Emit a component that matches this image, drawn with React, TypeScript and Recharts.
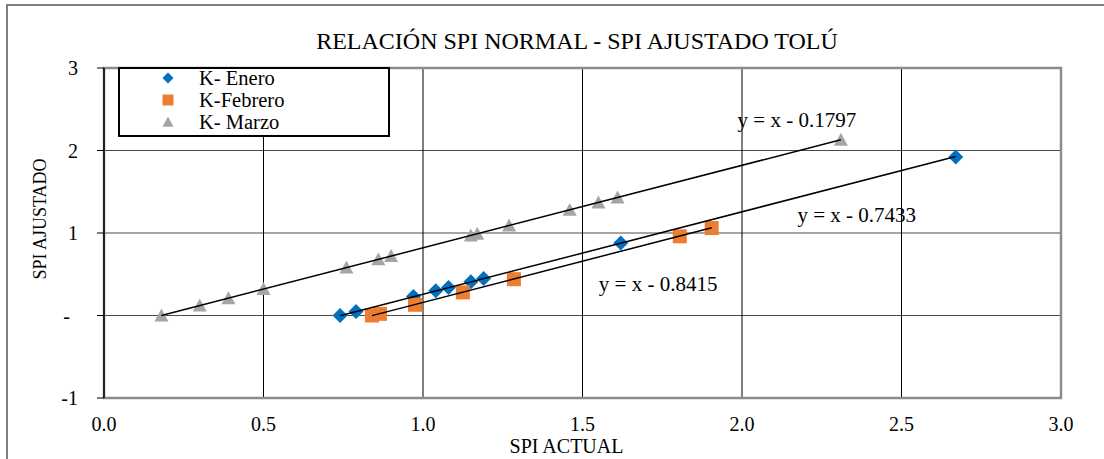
import React from 'react';
import {
  ScatterChart,
  Scatter,
  XAxis,
  YAxis,
  CartesianGrid,
  ReferenceArea,
  ReferenceLine,
  ReferenceDot,
  Legend,
  Label,
} from 'recharts';

// values
const eneroX = [0.74, 0.79, 0.97, 1.04, 1.08, 1.15, 1.19, 1.62, 2.67];
const eneroY = [0.0, 0.05, 0.23, 0.3, 0.34, 0.41, 0.45, 0.88, 1.92];
const febreroX = [0.84, 0.865, 0.975, 1.125, 1.285, 1.805, 1.905];
const febreroY = [0.0, 0.02, 0.13, 0.28, 0.44, 0.96, 1.06];
const marzoX = [0.18, 0.3, 0.39, 0.5, 0.76, 0.86, 0.9, 1.15, 1.17, 1.27, 1.46, 1.55, 1.61, 2.31];
const marzoY = [0.0, 0.12, 0.21, 0.32, 0.58, 0.68, 0.72, 0.97, 0.99, 1.09, 1.28, 1.37, 1.43, 2.13];

const seriesNames = ['K- Enero', 'K-Febrero', 'K- Marzo'];
const seriesColors = ['#0070C0', '#ED7D31', '#A5A5A5'];
const seriesShapes = ['diamond', 'square', 'triangle'];
// trendline equations y = x - b
const intercepts = [0.7433, 0.8415, 0.1797];
// where each equation label sits (data coordinates)
const trendLabelX = [2.36, 1.737, 2.172];
const trendLabelY = [1.137, 0.297, 2.285];

const xTicks = [0, 0.5, 1, 1.5, 2, 2.5, 3];
const yTicks = [-1, 0, 1, 2, 3];

const TITLE = 'RELACIÓN SPI NORMAL - SPI AJUSTADO TOLÚ';
const FONT = '"Liberation Serif", "Times New Roman", serif';

const toPoints = (xs: number[], ys: number[]) => xs.map((x, i) => ({ x, y: ys[i] }));
const seriesData = [toPoints(eneroX, eneroY), toPoints(febreroX, febreroY), toPoints(marzoX, marzoY)];

const trendData = seriesData.map((pts, i) => {
  const xs = pts.map(p => p.x);
  const lo = Math.min(...xs);
  const hi = Math.max(...xs);
  return [
    { x: lo, y: lo - intercepts[i] },
    { x: hi, y: hi - intercepts[i] },
  ];
});

const drawMarker = (kind: string, cx: number, cy: number, color: string, s: number) => {
  if (kind === 'diamond') {
    return <path d={`M${cx},${cy - s}L${cx + s},${cy}L${cx},${cy + s}L${cx - s},${cy}Z`} fill={color} />;
  }
  if (kind === 'square') {
    return <rect x={cx - s} y={cy - s} width={s * 2} height={s * 2} fill={color} />;
  }
  return <path d={`M${cx},${cy - s}L${cx + s},${cy + s * 0.85}L${cx - s},${cy + s * 0.85}Z`} fill={color} />;
};

const YTick = (props: any) => {
  const { x, y, payload } = props;
  const isZero = payload.value === 0;
  return (
    <text
      x={isZero ? x - 8 : x}
      y={y}
      dy="0.355em"
      textAnchor="end"
      fill="#000"
      fontSize={20}
      fontFamily={FONT}
    >
      {isZero ? '-' : payload.value}
    </text>
  );
};

const LegendBox = () => (
  <div
    style={{
      width: 272,
      height: 70,
      border: '2px solid #000',
      boxSizing: 'border-box',
      background: '#fff',
      position: 'relative',
      fontFamily: FONT,
      fontSize: 20.5,
      color: '#000',
    }}
  >
    {seriesNames.map((name, i) => (
      <div key={name} style={{ position: 'absolute', left: 0, top: 9 + i * 22 - 11, height: 22, width: '100%' }}>
        <svg width={16} height={16} style={{ position: 'absolute', left: 40, top: 3 }}>
          {drawMarker(seriesShapes[i], 8, 8, seriesColors[i], 5.5)}
        </svg>
        <span style={{ position: 'absolute', left: 79, top: 0, lineHeight: '22px', whiteSpace: 'nowrap' }}>{name}</span>
      </div>
    ))}
  </div>
);

export default function App() {
  return (
    <div style={{ position: 'absolute', left: 0, top: 0, width: 1104, height: 459, overflow: 'hidden', background: '#fff' }}>
      <div
        style={{
          position: 'absolute',
          left: 6,
          top: 4,
          width: 1110,
          height: 470,
          border: '2px solid #7f7f7f',
          boxSizing: 'border-box',
        }}
      />
      <div
        style={{
          position: 'absolute',
          left: 227,
          top: 29,
          width: 700,
          textAlign: 'center',
          fontFamily: FONT,
          fontSize: 24,
          lineHeight: '24px',
          color: '#000',
          whiteSpace: 'nowrap',
        }}
      >
        {TITLE}
      </div>
      <div style={{ position: 'absolute', left: 7, top: 5 }}>
        <ScatterChart
          width={1097}
          height={454}
          margin={{ top: 63, right: 43, bottom: 0, left: 37 }}
          style={{ fontFamily: FONT }}
        >
          <CartesianGrid vertical={false} stroke="#4a4a4a" strokeWidth={1} />
          <CartesianGrid horizontal={false} stroke="#000" strokeWidth={1} />
          <XAxis
            type="number"
            dataKey="x"
            domain={[0, 3]}
            ticks={xTicks}
            interval={0}
            tickFormatter={(v: number) => v.toFixed(1)}
            axisLine={false}
            tickLine={false}
            tickMargin={13}
            height={61}
            tick={{ fill: '#000', fontSize: 20, fontFamily: FONT }}
          >
            <Label
              content={(p: any) => {
                const vb = p.viewBox;
                return (
                  <text x={vb.x + vb.width / 2 - 16} y={vb.y + 54.7} textAnchor="middle" fill="#000" fontSize={20} fontFamily={FONT}>
                    SPI ACTUAL
                  </text>
                );
              }}
            />
          </XAxis>
          <YAxis
            type="number"
            dataKey="y"
            domain={[-1, 3]}
            ticks={yTicks}
            interval={0}
            width={60}
            tickSize={7}
            tickMargin={19}
            axisLine={{ stroke: '#000' }}
            tickLine={{ stroke: '#000' }}
            tick={<YTick />}
          >
            <Label
              content={(p: any) => {
                const vb = p.viewBox;
                const cx = vb.x - 4;
                const cy = vb.y + vb.height / 2 - 14;
                return (
                  <text
                    x={cx}
                    y={cy}
                    transform={`rotate(-90, ${cx}, ${cy})`}
                    textAnchor="middle"
                    dominantBaseline="central"
                    fill="#000"
                    fontSize={18}
                    fontFamily={FONT}
                  >
                    SPI AJUSTADO
                  </text>
                );
              }}
            />
          </YAxis>
          <ReferenceArea x1={0} x2={3} y1={-1} y2={3} fill="none" stroke="#8c8c8c" strokeWidth={2.5} />
          <ReferenceLine x={0} stroke="#000" strokeWidth={1} />
          <Legend
            layout="vertical"
            align="center"
            verticalAlign="middle"
            wrapperStyle={{ left: 111, top: 62, width: 272, height: 70 }}
            content={() => <LegendBox />}
          />
          {seriesData.map((pts, i) => (
            <Scatter
              key={seriesNames[i]}
              name={seriesNames[i]}
              data={pts}
              isAnimationActive={false}
              shape={(p: any) => drawMarker(seriesShapes[i], p.cx, p.cy, seriesColors[i], seriesShapes[i] === 'diamond' ? 7.5 : 7)}
            />
          ))}
          {trendData.map((pts, i) => (
            <Scatter
              key={`trend-${i}`}
              data={pts}
              isAnimationActive={false}
              legendType="none"
              line={{ stroke: '#000', strokeWidth: 1.5 }}
              shape={() => <g />}
            />
          ))}
          {intercepts.map((b, i) => (
            <ReferenceDot
              key={`lbl-${i}`}
              x={trendLabelX[i]}
              y={trendLabelY[i]}
              r={0}
              fill="none"
              stroke="none"
              ifOverflow="visible"
              label={(p: any) => {
                const vb = p.viewBox;
                return (
                  <text x={vb.x + vb.width / 2} y={vb.y + vb.height / 2} textAnchor="middle" fill="#000" fontSize={21} fontFamily={FONT}>
                    {`y = x - ${b.toFixed(4)}`}
                  </text>
                );
              }}
            />
          ))}
        </ScatterChart>
      </div>
    </div>
  );
}
